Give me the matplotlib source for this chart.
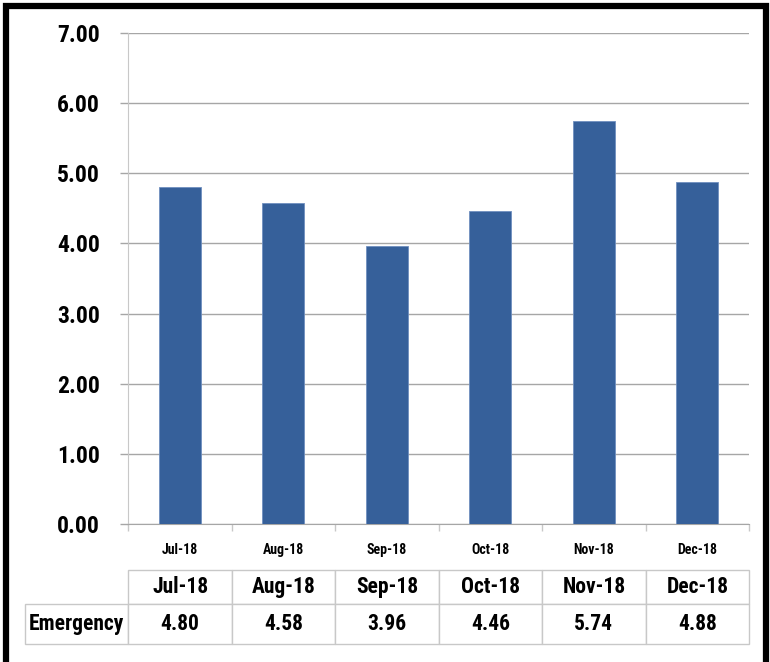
import numpy as np
import matplotlib
matplotlib.use("Agg")
import matplotlib.pyplot as plt
from matplotlib import font_manager
from matplotlib.patches import Rectangle

months = ["Jul-18", "Aug-18", "Sep-18", "Oct-18", "Nov-18", "Dec-18"]
emergency = [4.80, 4.58, 3.96, 4.46, 5.74, 4.88]
row_label = "Emergency"
y_ticks = [0, 1, 2, 3, 4, 5, 6, 7]


def pick_narrow_font():
    """Find a condensed bold sans face, the chart uses a Calibri-like one."""
    candidates = [('Roboto Condensed', 'normal'), ('Liberation Sans Narrow', 'normal'),
                  ('Noto Sans', 'condensed'), ('Open Sans', 'condensed'),
                  ('DejaVu Sans', 'condensed')]
    for fam, stretch in candidates:
        try:
            path = font_manager.findfont(
                font_manager.FontProperties(family=fam, stretch=stretch, weight='bold'),
                fallback_to_default=False)
        except Exception:
            continue
        name = path.lower()
        if 'condensed' in name or 'narrow' in name:
            return font_manager.FontProperties(fname=path)
    return None


narrow = pick_narrow_font()
plt.rcParams['font.family'] = ['DejaVu Sans']
plt.rcParams['font.weight'] = 'bold'


def style_text(t, size):
    if narrow is not None:
        t.set_fontproperties(narrow)
    t.set_fontsize(size)
    t.set_fontweight('bold')


bar_color = '#36609A'
grid_gray = '#A6A6A6'
light_gray = '#C8C8C8'

fig = plt.figure(figsize=(7.7, 6.62), dpi=100)
ax = fig.add_axes([128 / 770, 1 - 524 / 662, 621 / 770, 491 / 662])

x = np.arange(len(months))
ax.bar(x, emergency, width=0.41, color=bar_color, edgecolor='#6F8FBF',
       linewidth=0.6, zorder=3)

ax.set_xlim(-0.5, len(months) - 0.5)
ax.set_ylim(0, 7)
ax.set_yticks(y_ticks)
ax.set_yticklabels([f"{v:.2f}" for v in y_ticks])
ax.yaxis.grid(True, color=grid_gray, linewidth=1, zorder=0)

# category labels under the axis, small ticks on the boundaries
ax.set_xticks(x)
ax.set_xticklabels(months)
ax.tick_params(axis='x', length=0, pad=14)
ax.set_xticks(np.arange(-0.5, len(months)), minor=True)
ax.tick_params(axis='x', which='minor', length=5, color=light_gray, width=1)
ax.tick_params(axis='y', length=6, color=grid_gray, width=1, pad=14)
for t in ax.get_yticklabels():
    style_text(t, 17)
for t in ax.get_xticklabels():
    style_text(t, 10)

for side in ['top', 'right']:
    ax.spines[side].set_visible(False)
ax.spines['left'].set_color(light_gray)
ax.spines['bottom'].set_color(grid_gray)

# data table under the chart: its own axes over the exact area
tax = fig.add_axes([25 / 770, 1 - 644 / 662, 724 / 770, 74 / 662])
tax.axis('off')
cells = [[row_label] + [f"{v:.2f}" for v in emergency]]
tbl = tax.table(cellText=cells, colLabels=[''] + months, cellLoc='center',
                bbox=[0, 0, 1, 1])
tbl.auto_set_font_size(False)
for (r, c), cell in tbl.get_celld().items():
    cell.set_edgecolor(light_gray)
    cell.set_linewidth(1)
    cell.set_width(1)
    cell.set_height(34 if r == 0 else 40)
    style_text(cell.get_text(), 15.5)
    if r == 0 and c == 0:
        cell.visible_edges = ''

# black frame round the whole picture
fig.patches.append(Rectangle((6.5 / 770, -0.05), 759 / 770, 1.05 - 6 / 662,
                             transform=fig.transFigure, fill=False,
                             edgecolor='black', linewidth=4.5))

fig.savefig("out.png", dpi=100)
